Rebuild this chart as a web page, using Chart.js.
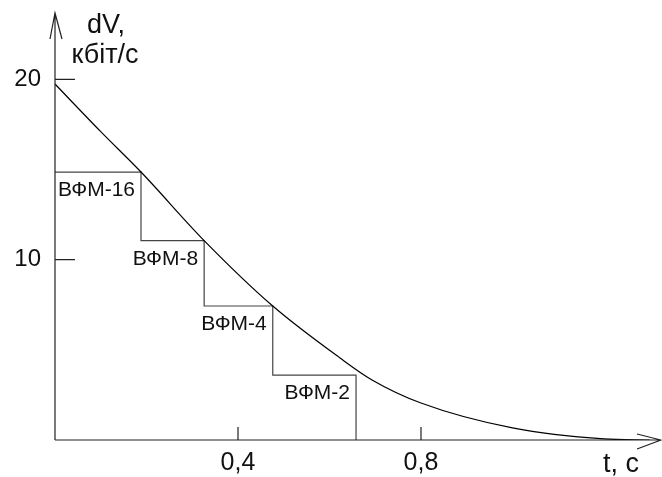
<!DOCTYPE html>
<html>
<head>
<meta charset="utf-8">
<script src="https://cdn.jsdelivr.net/npm/chart.js@4/dist/chart.umd.min.js"></script>
<style>
  body { margin: 0; background: #fff; }
  canvas { display: block; }
</style>
</head>
<body>
<canvas id="chart" width="662" height="477"></canvas>
<script>
// curve dV(t)
const curveT = [0, 0.1, 0.188, 0.326, 0.476, 0.623, 0.693, 0.8, 1.0, 1.2, 1.3];
const curveV = [19.74, 17.1, 14.86, 11.06, 7.43, 4.55, 3.33, 2.05, 0.67, 0.06, 0.0];

// staircase of modulation modes
const stepT = [0, 0.188, 0.326, 0.476, 0.658];
const stepLevel = [14.86, 11.06, 7.43, 3.6, 0];
const modLabels = ['ВФМ-16', 'ВФМ-8', 'ВФМ-4', 'ВФМ-2'];

const xLabels = { 4: '0,4', 8: '0,8' };
const yLabels = { 10: '10', 20: '20' };

const FONT = '"Liberation Sans", Arial, sans-serif';

const axesPlugin = {
  id: 'axes',
  afterDraw(chart) {
    const ctx = chart.ctx;
    const xs = chart.scales.x;
    const ys = chart.scales.y;
    const x0 = xs.getPixelForValue(0);
    const y0 = ys.getPixelForValue(0);

    ctx.save();
    ctx.strokeStyle = '#222';
    ctx.lineWidth = 1.2;

    // axis lines + open arrow heads
    ctx.beginPath();
    ctx.moveTo(x0, y0);
    ctx.lineTo(661, y0);
    ctx.moveTo(637, y0 - 6);
    ctx.lineTo(661, y0);
    ctx.lineTo(637, y0 + 9);
    ctx.moveTo(x0, y0);
    ctx.lineTo(x0, 13);
    ctx.moveTo(x0 - 5, 39);
    ctx.lineTo(x0, 13);
    ctx.lineTo(x0 + 7, 39);
    ctx.stroke();

    // inward ticks
    ctx.beginPath();
    xs.ticks.forEach(t => {
      const k = Math.round(t.value * 5);
      if (k > 0 && Math.abs(t.value * 5 - k) < 1e-6) {
        const px = xs.getPixelForValue(t.value);
        ctx.moveTo(px, y0);
        ctx.lineTo(px, y0 - 13);
      }
    });
    ys.ticks.forEach(t => {
      if (t.value > 0 && t.value % 5 === 0) {
        const py = ys.getPixelForValue(t.value);
        ctx.moveTo(x0, py);
        ctx.lineTo(x0 + 20, py);
      }
    });
    ctx.stroke();

    // texts
    ctx.fillStyle = '#111';
    ctx.textBaseline = 'alphabetic';
    ctx.font = '27px ' + FONT;
    ctx.textAlign = 'center';
    ctx.fillText('dV,', 106, 33);
    ctx.fillText('кбіт/с', 105, 63);
    ctx.fillText('t, c', xs.getPixelForValue(1.237), 472);

    ctx.font = '21px ' + FONT;
    ctx.textAlign = 'right';
    modLabels.forEach((lab, i) => {
      const px = xs.getPixelForValue(stepT[i + 1]) - 6;
      const py = ys.getPixelForValue(stepLevel[i]) + 24;
      ctx.fillText(lab, px, py);
    });
    ctx.restore();
  }
};

new Chart(document.getElementById('chart'), {
  type: 'line',
  data: {
    datasets: [
      {
        data: curveT.map((t, i) => ({ x: t, y: curveV[i] })),
        borderColor: '#000',
        borderWidth: 1.2,
        pointRadius: 0,
        cubicInterpolationMode: 'monotone',
        fill: false
      },
      {
        data: stepT.map((t, i) => ({ x: t, y: stepLevel[i] })),
        borderColor: '#444',
        borderWidth: 1.2,
        pointRadius: 0,
        stepped: 'before',
        fill: false
      }
    ]
  },
  options: {
    responsive: false,
    animation: false,
    layout: { padding: 0 },
    plugins: {
      legend: { display: false },
      tooltip: { enabled: false }
    },
    scales: {
      x: {
        type: 'linear',
        min: 0,
        max: 1.3268,
        grid: { display: false, drawTicks: false },
        border: { display: false },
        afterFit(scale) {
          scale.height = 37;
          scale.paddingLeft = 0;
          scale.paddingRight = 0;
        },
        ticks: {
          stepSize: 0.2,
          autoSkip: false,
          maxRotation: 0,
          padding: 8,
          color: '#111',
          font: { family: FONT, size: 25 },
          callback: v => {
            const k = Math.round(v * 10);
            return Math.abs(v * 10 - k) < 1e-6 && xLabels[k] ? xLabels[k] : null;
          }
        }
      },
      y: {
        type: 'linear',
        min: 0,
        max: 24.4,
        grid: { display: false, drawTicks: false },
        border: { display: false },
        afterFit(scale) {
          scale.width = 55;
          scale.paddingTop = 0;
          scale.paddingBottom = 0;
        },
        ticks: {
          stepSize: 5,
          autoSkip: false,
          padding: 14,
          color: '#111',
          font: { family: FONT, size: 24 },
          callback: v => yLabels[v] || null
        }
      }
    }
  },
  plugins: [axesPlugin]
});
</script>
</body>
</html>
